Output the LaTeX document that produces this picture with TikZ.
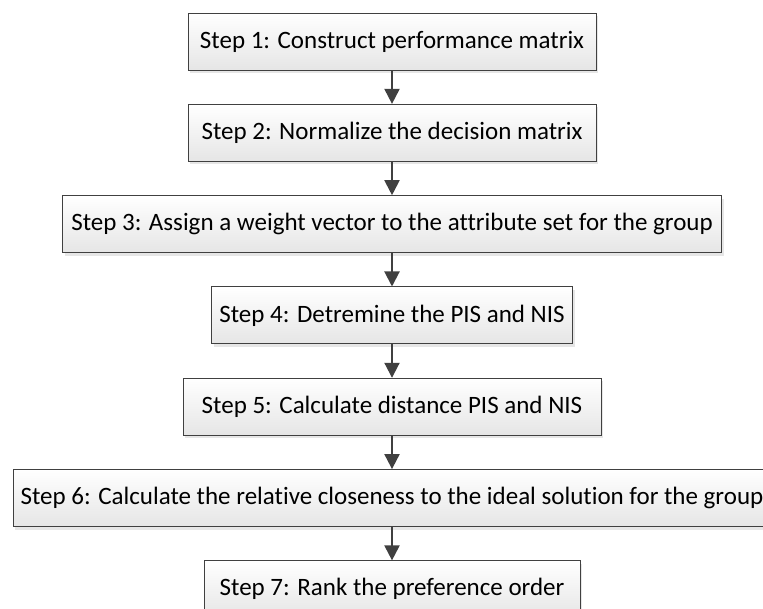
\documentclass[tikz,border=0pt]{standalone}
\usepackage{fontspec}
\setmainfont{Carlito}[Ligatures=NoCommon]
\usetikzlibrary{positioning,shadows,arrows.meta}
\tikzset{
  stepbox/.style={draw=black!75, line width=0.8pt, top color=white, bottom color=black!10,
    minimum height=57pt, inner xsep=5pt, font=\fontsize{25}{30}\selectfont,
    drop shadow={shadow xshift=2pt, shadow yshift=-3pt, opacity=0.2}},
  flow/.style={-{Triangle[length=15pt,width=15pt]}, line width=2pt, draw=black!75}
}
\begin{document}
\begin{tikzpicture}[x=1pt, y=1pt, node distance=33.5pt]
  \useasboundingbox (0,0) rectangle (763,608);
  \node[stepbox, minimum width=408pt] (s1) at (392,566.5) {Step 1: Construct performance matrix};
  \node[stepbox, minimum width=408pt, below=of s1] (s2) {Step 2: Normalize the decision matrix};
  \node[stepbox, minimum width=659pt, below=of s2] (s3) {Step 3: Assign a weight vector to the attribute set for the group};
  \node[stepbox, minimum width=361pt, below=of s3] (s4) {Step 4: Detremine the PIS and NIS};
  \node[stepbox, minimum width=418pt, below=of s4] (s5) {Step 5: Calculate distance PIS and NIS};
  \node[stepbox, minimum width=758pt, below=of s5] (s6) {Step 6: Calculate the relative closeness to the ideal solution for the group};
  \node[stepbox, minimum width=376pt, below=of s6] (s7) {Step 7: Rank the preference order};
  % arrows between the steps
  \foreach \a/\b in {s1/s2, s2/s3, s3/s4, s4/s5, s5/s6, s6/s7}
    \draw[flow] (\a) -- (\b);
\end{tikzpicture}
\end{document}
